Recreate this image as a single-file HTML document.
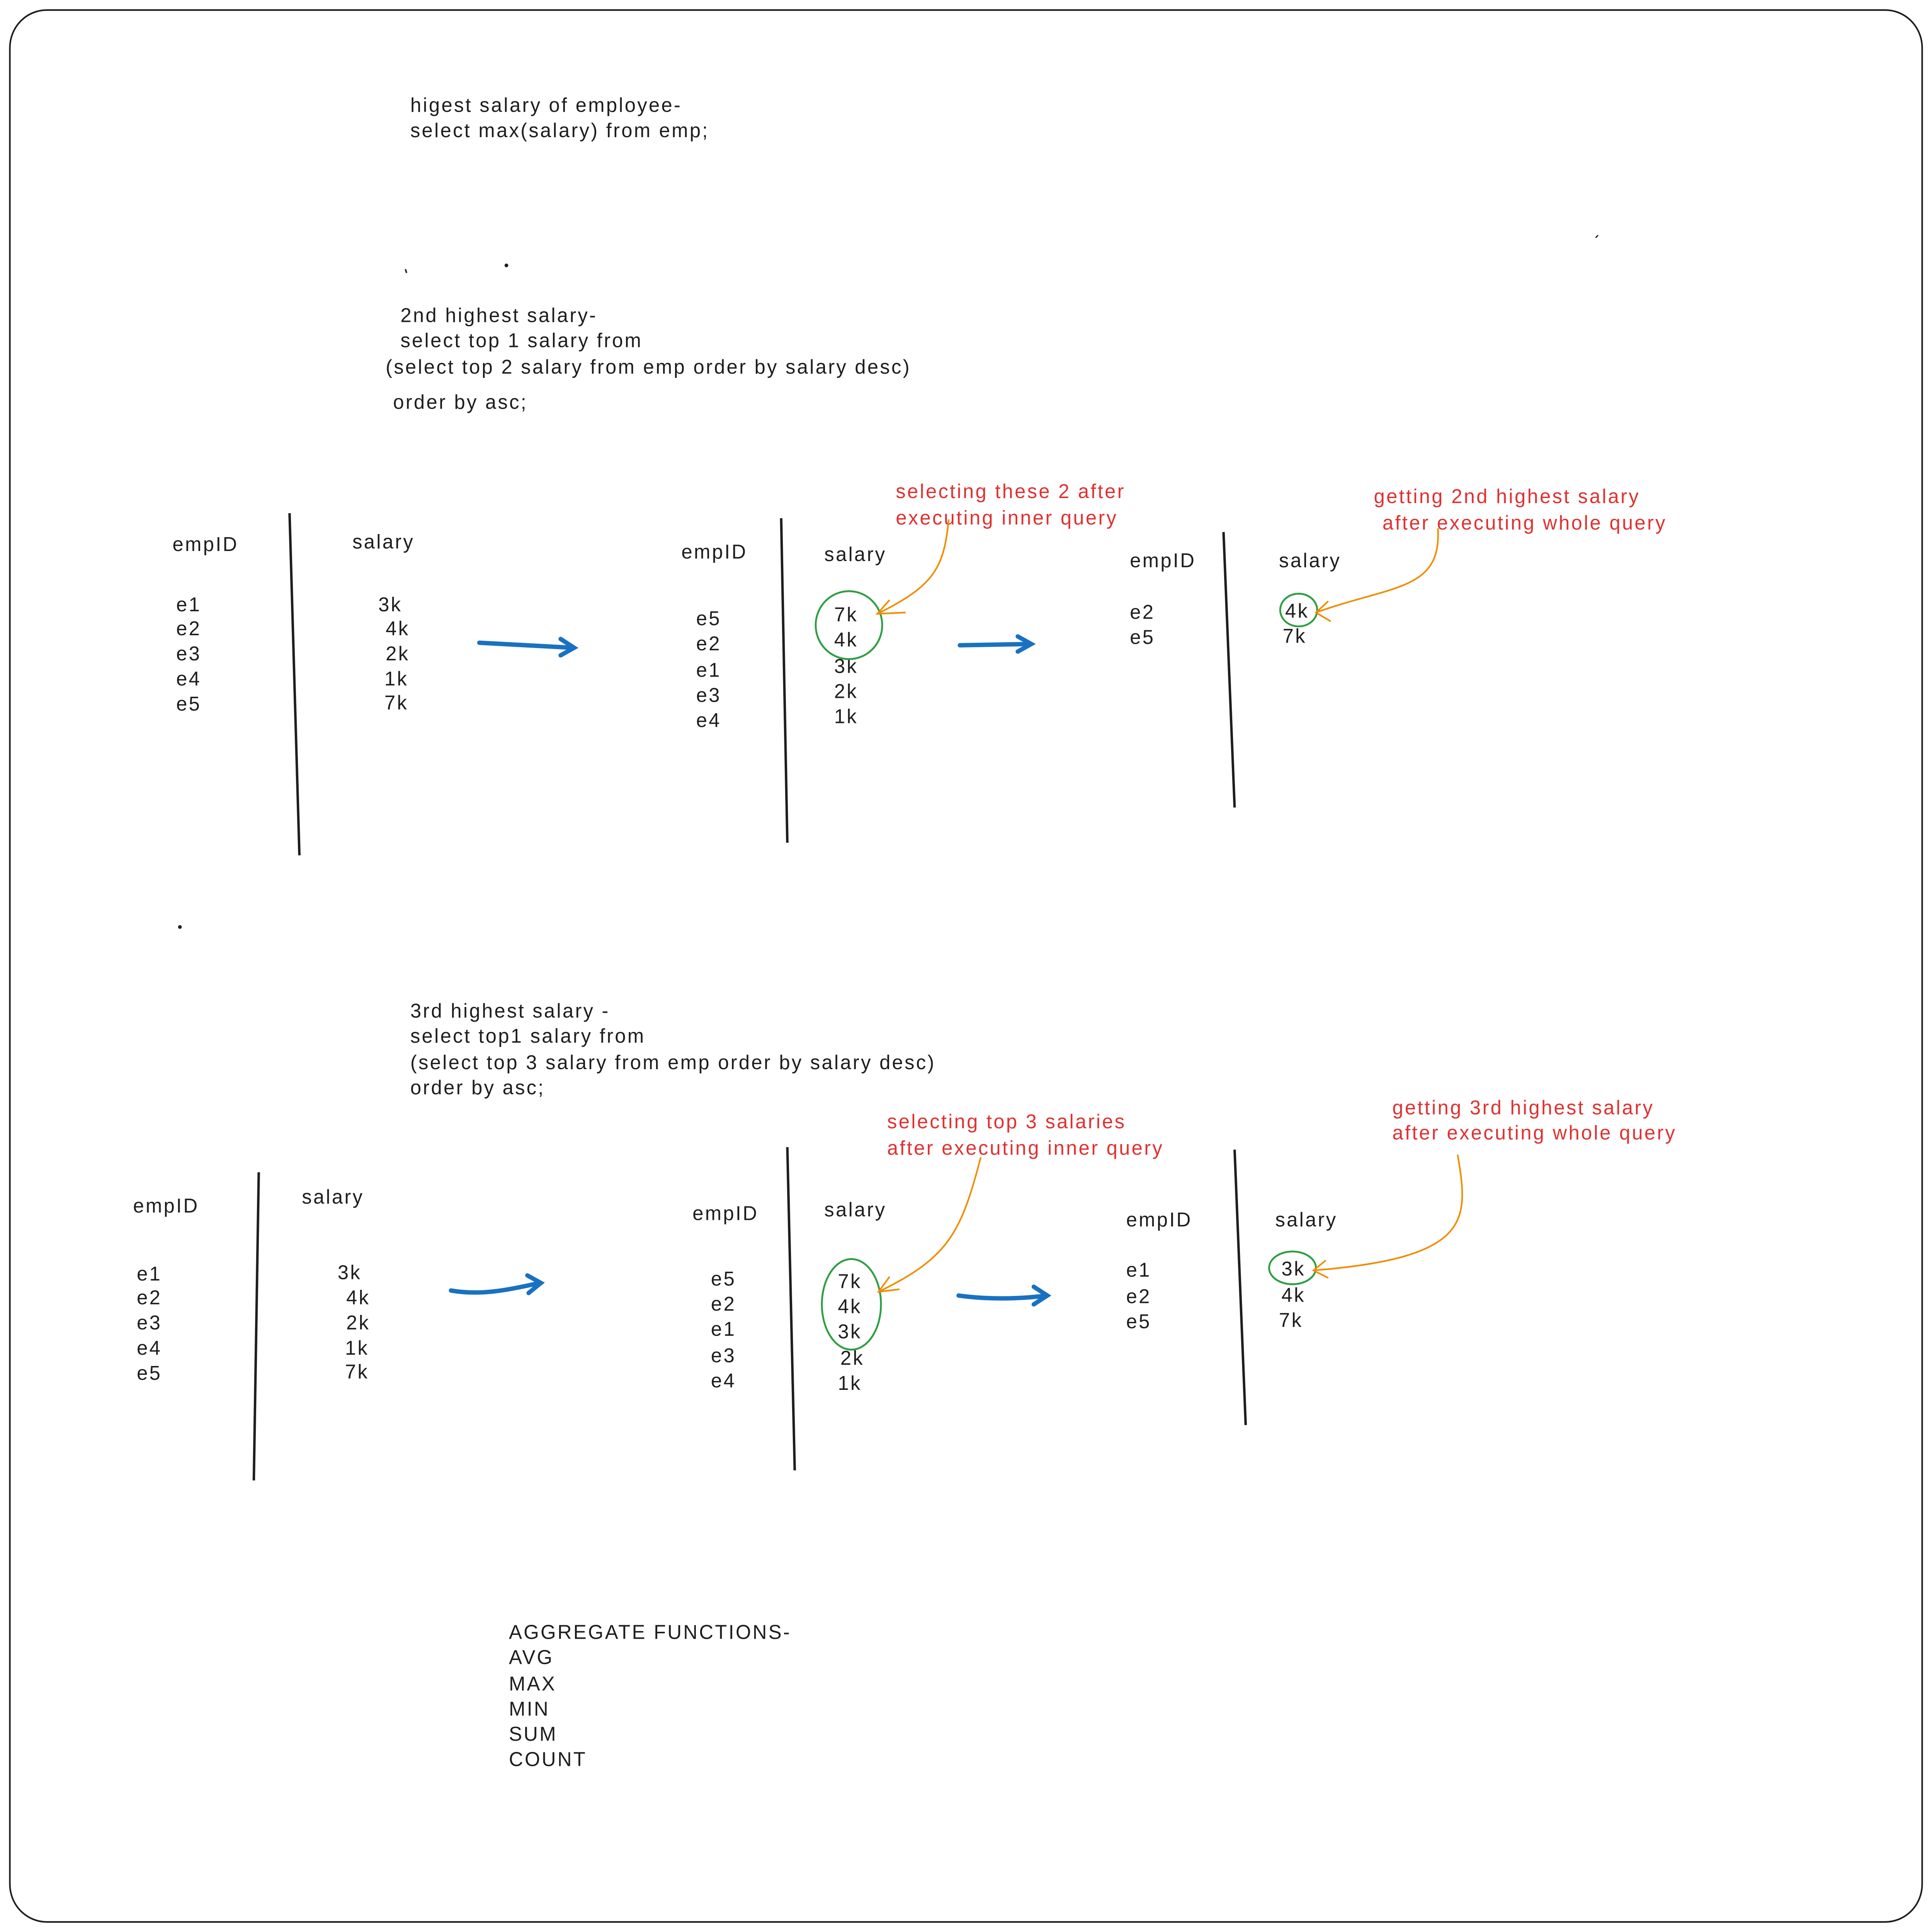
<!DOCTYPE html>
<html><head><meta charset="utf-8">
<style>
html,body{margin:0;padding:0;background:#fff;overflow:hidden;width:100vw;height:100vh;}
svg{display:block;position:absolute;left:0;top:0;width:100vw;height:100vh;}
text{font-family:"Liberation Sans",sans-serif;font-size:16px;letter-spacing:1.3px;fill:#1e1e1e;}
.r{fill:#e03131;}
</style></head>
<body>
<svg viewBox="0 0 1568 1536" preserveAspectRatio="none" xmlns="http://www.w3.org/2000/svg">
<rect x="8" y="8" width="1552" height="1520" rx="30" fill="#fff" stroke="#1e1e1e" stroke-width="1.3"/>

<text x="333" y="89">higest salary of employee-</text>
<text x="333" y="109">select max(salary) from emp;</text>
<circle cx="411" cy="211" r="1.5" fill="#1e1e1e"/>
<circle cx="146" cy="737" r="1.5" fill="#1e1e1e"/>
<path d="M329 214 L330 217" stroke="#1e1e1e" stroke-width="1.2"/>
<path d="M1295 189 L1297 187" stroke="#1e1e1e" stroke-width="1"/>

<text x="325" y="256">2nd highest salary-</text>
<text x="325" y="276">select top 1 salary from</text>
<text x="313" y="297">(select top 2 salary from emp order by salary desc)</text>
<text x="319" y="325">order by asc;</text>

<text x="140" y="438">empID</text>
<text x="286" y="436">salary</text>
<text x="143" y="486">e1</text><text x="143" y="505">e2</text><text x="143" y="525">e3</text><text x="143" y="545">e4</text><text x="143" y="565">e5</text>
<text x="307" y="486">3k</text><text x="313" y="505">4k</text><text x="313" y="525">2k</text><text x="312" y="545">1k</text><text x="312" y="564">7k</text>
<path d="M235 408 L243 680" stroke="#1e1e1e" stroke-width="2" fill="none"/>
<path d="M389 511 L465 515 M455 508 L466 515 L455 521" stroke="#1971c2" stroke-width="3.5" fill="none" stroke-linecap="round"/>

<text x="553" y="444">empID</text>
<text x="669" y="446">salary</text>
<text x="565" y="497">e5</text><text x="565" y="517">e2</text><text x="565" y="538">e1</text><text x="565" y="558">e3</text><text x="565" y="578">e4</text>
<text x="677" y="494">7k</text><text x="677" y="514">4k</text><text x="677" y="535">3k</text><text x="677" y="555">2k</text><text x="677" y="575">1k</text>
<path d="M634 412 L639 670" stroke="#1e1e1e" stroke-width="2" fill="none"/>
<ellipse cx="689" cy="497" rx="27" ry="27" fill="none" stroke="#2f9e44" stroke-width="1.5"/>
<path d="M779 513 L836 512 M826 506 L837 512 L826 518" stroke="#1971c2" stroke-width="3.5" fill="none" stroke-linecap="round"/>
<text class="r" x="727" y="396">selecting these 2 after</text>
<text class="r" x="727" y="417">executing inner query</text>
<path d="M770 413 C766 450 760 465 712 488 M722 477 L712 488 L735 487" stroke="#f08c00" stroke-width="1.3" fill="none"/>

<text x="917" y="451">empID</text>
<text x="1038" y="451">salary</text>
<text x="917" y="492">e2</text><text x="917" y="512">e5</text>
<text x="1043" y="491">4k</text><text x="1041" y="511">7k</text>
<path d="M993 423 L1002 642" stroke="#1e1e1e" stroke-width="2" fill="none"/>
<ellipse cx="1054" cy="485" rx="15" ry="13" fill="none" stroke="#2f9e44" stroke-width="1.5"/>
<text class="r" x="1115" y="400">getting 2nd highest salary</text>
<text class="r" x="1122" y="421">after executing whole query</text>
<path d="M1167 420 C1170 470 1130 465 1068 487 M1078 478 L1068 487 L1080 494" stroke="#f08c00" stroke-width="1.3" fill="none"/>

<text x="333" y="809">3rd highest salary -</text>
<text x="333" y="829">select top1 salary from</text>
<text x="333" y="850">(select top 3 salary from emp order by salary desc)</text>
<text x="333" y="870">order by asc;</text>

<text x="108" y="964">empID</text>
<text x="245" y="957">salary</text>
<text x="111" y="1018">e1</text><text x="111" y="1037">e2</text><text x="111" y="1057">e3</text><text x="111" y="1077">e4</text><text x="111" y="1097">e5</text>
<text x="274" y="1017">3k</text><text x="281" y="1037">4k</text><text x="281" y="1057">2k</text><text x="280" y="1077">1k</text><text x="280" y="1096">7k</text>
<path d="M210 932 L206 1177" stroke="#1e1e1e" stroke-width="2" fill="none"/>
<path d="M366 1026 C390 1030 410 1026 438 1020 M428 1014 L439 1020 L429 1028" stroke="#1971c2" stroke-width="3.5" fill="none" stroke-linecap="round"/>

<text x="562" y="970">empID</text>
<text x="669" y="967">salary</text>
<text x="577" y="1022">e5</text><text x="577" y="1042">e2</text><text x="577" y="1062">e1</text><text x="577" y="1083">e3</text><text x="577" y="1103">e4</text>
<text x="680" y="1024">7k</text><text x="680" y="1044">4k</text><text x="680" y="1064">3k</text><text x="682" y="1085">2k</text><text x="680" y="1105">1k</text>
<path d="M639 912 L645 1169" stroke="#1e1e1e" stroke-width="2" fill="none"/>
<ellipse cx="691" cy="1037" rx="24" ry="36" fill="none" stroke="#2f9e44" stroke-width="1.5"/>
<path d="M778 1030 C800 1033 825 1033 850 1030 M839 1023 L850 1030 L839 1037" stroke="#1971c2" stroke-width="3.5" fill="none" stroke-linecap="round"/>
<text class="r" x="720" y="897">selecting top 3 salaries</text>
<text class="r" x="720" y="918">after executing inner query</text>
<path d="M796 920 C780 980 770 1000 713 1027 M722 1015 L713 1027 L730 1025" stroke="#f08c00" stroke-width="1.3" fill="none"/>

<text x="914" y="975">empID</text>
<text x="1035" y="975">salary</text>
<text x="914" y="1015">e1</text><text x="914" y="1036">e2</text><text x="914" y="1056">e5</text>
<text x="1040" y="1014">3k</text><text x="1040" y="1035">4k</text><text x="1038" y="1055">7k</text>
<path d="M1002 914 L1011 1133" stroke="#1e1e1e" stroke-width="2" fill="none"/>
<ellipse cx="1049" cy="1008" rx="19" ry="13" fill="none" stroke="#2f9e44" stroke-width="1.5"/>
<text class="r" x="1130" y="886">getting 3rd highest salary</text>
<text class="r" x="1130" y="906">after executing whole query</text>
<path d="M1183 918 C1192 970 1195 1000 1066 1010 M1076 1002 L1066 1010 L1078 1016" stroke="#f08c00" stroke-width="1.3" fill="none"/>

<text x="413" y="1303">AGGREGATE FUNCTIONS-</text>
<text x="413" y="1323">AVG</text>
<text x="413" y="1344">MAX</text>
<text x="413" y="1364">MIN</text>
<text x="413" y="1384">SUM</text>
<text x="413" y="1404">COUNT</text>
</svg>
</body></html>
